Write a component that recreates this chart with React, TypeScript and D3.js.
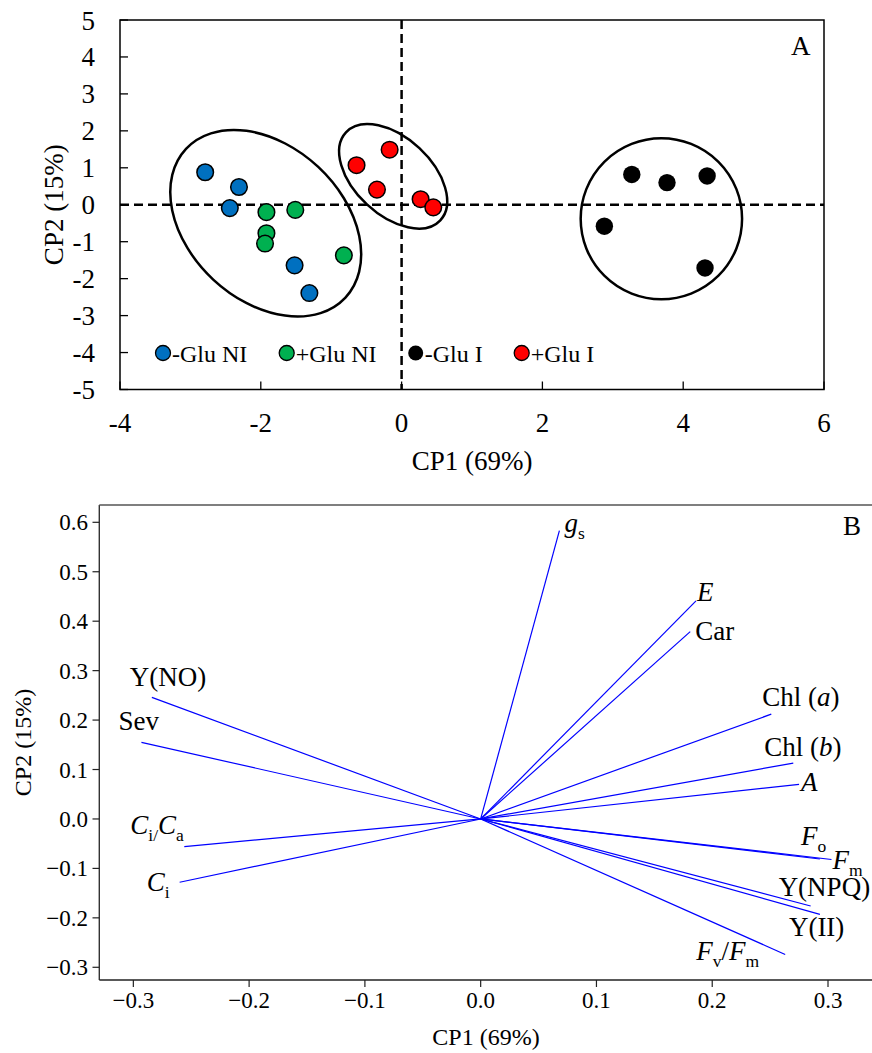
import React from 'react';
import * as d3 from 'd3';

// ---------- Panel A data (PCA scores) ----------
const groupNames = ['-Glu NI', '+Glu NI', '-Glu I', '+Glu I'];
const groupColors = ['#0070C0', '#00B050', '#000000', '#FF0000'];

const negGluNI_x = [-2.79, -2.31, -2.44, -1.52, -1.31];
const negGluNI_y = [0.88, 0.48, -0.09, -1.64, -2.39];
const posGluNI_x = [-1.92, -1.51, -1.92, -1.94, -0.82];
const posGluNI_y = [-0.2, -0.14, -0.77, -1.05, -1.37];
const negGluI_x = [3.27, 3.77, 4.34, 2.88, 4.31];
const negGluI_y = [0.82, 0.6, 0.78, -0.58, -1.71];
const posGluI_x = [-0.64, -0.17, -0.35, 0.27, 0.45];
const posGluI_y = [1.07, 1.49, 0.41, 0.15, -0.07];

const groupXs = [negGluNI_x, posGluNI_x, negGluI_x, posGluI_x];
const groupYs = [negGluNI_y, posGluNI_y, negGluI_y, posGluI_y];

// cluster ellipses: centres in data units
const ellipseCx = [-1.93, -0.12, 3.69];
const ellipseCy = [-0.5, 0.77, -0.38];

const xTicksA = [-4, -2, 0, 2, 4, 6];
const yTicksA = [-5, -4, -3, -2, -1, 0, 1, 2, 3, 4, 5];

// ---------- Panel B data (loadings) ----------
const loadVars = ['gs', 'E', 'Car', 'Chl a', 'Chl b', 'A', 'Fo', 'Fm', 'Y(NPQ)', 'Y(II)', 'Fv/Fm', 'Y(NO)', 'Sev', 'Ci/Ca', 'Ci'];
const loadPC1 = [0.068, 0.186, 0.181, 0.251, 0.27, 0.275, 0.293, 0.303, 0.285, 0.293, 0.263, -0.284, -0.293, -0.256, -0.26];
const loadPC2 = [0.583, 0.441, 0.379, 0.212, 0.113, 0.07, -0.081, -0.082, -0.176, -0.193, -0.274, 0.246, 0.155, -0.056, -0.128];

const xTicksB = [-0.3, -0.2, -0.1, 0.0, 0.1, 0.2, 0.3];
const yTicksB = [-0.3, -0.2, -0.1, 0.0, 0.1, 0.2, 0.3, 0.4, 0.5, 0.6];

type Seg = { t: string; i?: boolean; sub?: boolean };
const labelSegs: Record<string, Seg[]> = {
  gs: [{ t: 'g', i: true }, { t: 's', sub: true }],
  E: [{ t: 'E', i: true }],
  Car: [{ t: 'Car' }],
  'Chl a': [{ t: 'Chl (' }, { t: 'a', i: true }, { t: ')' }],
  'Chl b': [{ t: 'Chl (' }, { t: 'b', i: true }, { t: ')' }],
  A: [{ t: 'A', i: true }],
  Fo: [{ t: 'F', i: true }, { t: 'o', sub: true }],
  Fm: [{ t: 'F', i: true }, { t: 'm', sub: true }],
  'Y(NPQ)': [{ t: 'Y(NPQ)' }],
  'Y(II)': [{ t: 'Y(II)' }],
  'Fv/Fm': [{ t: 'F', i: true }, { t: 'v', sub: true }, { t: '/' }, { t: 'F', i: true }, { t: 'm', sub: true }],
  'Y(NO)': [{ t: 'Y(NO)' }],
  Sev: [{ t: 'Sev' }],
  'Ci/Ca': [{ t: 'C', i: true }, { t: 'i/', sub: true }, { t: 'C', i: true }, { t: 'a', sub: true }],
  Ci: [{ t: 'C', i: true }, { t: 'i', sub: true }],
};

// label placement offsets (px) from the arrow tip
const labelOffset: Record<string, [number, number]> = {
  gs: [5, 1], E: [1, 0], Car: [5, 8], 'Chl a': [-9, -8], 'Chl b': [-29, -7], A: [2, 7],
  Fo: [-19, -14], Fm: [1, 9], 'Y(NPQ)': [-32, -10], 'Y(II)': [-31, 22], 'Fv/Fm': [-89, 6],
  'Y(NO)': [-22, -11], Sev: [-23, -12], 'Ci/Ca': [-54, -13], Ci: [-33, 9],
};

const FONT = 'Liberation Serif, Tinos, DejaVu Serif, serif';

function RichLabel({ x, y, segs, size }: { x: number; y: number; segs: Seg[]; size: number }) {
  let cur = 0;
  const subDy = 7;
  return (
    <text x={x} y={y} fill="#000" style={{ fontFamily: FONT, fontSize: size }}>
      {segs.map((s, k) => {
        const target = s.sub ? subDy : 0;
        const dy = target - cur;
        cur = target;
        return (
          <tspan key={k} dy={dy} style={{ fontStyle: s.i ? 'italic' : 'normal', fontSize: s.sub ? size * 0.65 : size }}>
            {s.t}
          </tspan>
        );
      })}
    </text>
  );
}

export default function App() {
  // ---- Panel A scales ----
  const xA = d3.scaleLinear().domain([-4, 6]).range([120, 824]);
  const yA = d3.scaleLinear().domain([-5, 5]).range([389.5, 20]);
  const ellipseRx = [109, 64.5, 80.7];
  const ellipseRy = [77, 38.5, 80.5];
  const ellipseRot = [43, 43, 0];

  // ---- Panel B scales ----
  const xB = d3.scaleLinear().domain([-0.3294, 0.338]).range([99.3, 872]);
  const yB = d3.scaleLinear().domain([-0.3257, 0.635]).range([980, 505]);
  const fmtB = d3.format('.1f');

  const legendX = [163, 286.7, 415.7, 521.7];
  const T = (size: number) => ({ fontFamily: FONT, fontSize: size });

  return (
    <svg width={872} height={1053} style={{ position: 'absolute', left: 0, top: 0, fontFamily: FONT }}>
      <rect width={872} height={1053} fill="#fff" />
      {/* ================= Panel A ================= */}
      <g>
        <line x1={xA(-4)} x2={xA(6)} y1={yA(0)} y2={yA(0)} stroke="#000" strokeWidth={2.5} strokeDasharray="9,5" />
        <line x1={xA(0)} x2={xA(0)} y1={yA(5)} y2={yA(-5)} stroke="#000" strokeWidth={2.5} strokeDasharray="9,5" />
        {ellipseCx.map((cx, k) => (
          <ellipse
            key={k}
            cx={0}
            cy={0}
            rx={ellipseRx[k]}
            ry={ellipseRy[k]}
            transform={`translate(${xA(cx)},${yA(ellipseCy[k])}) rotate(${ellipseRot[k]})`}
            fill="none"
            stroke="#000"
            strokeWidth={2.5}
          />
        ))}
        {groupXs.map((xs, g) =>
          xs.map((v, k) => (
            <circle
              key={`${g}-${k}`}
              cx={xA(v)}
              cy={yA(groupYs[g][k])}
              r={g === 2 ? 8.7 : 8.3}
              fill={groupColors[g]}
              stroke="#000"
              strokeWidth={g === 2 ? 0 : 1.5}
            />
          ))
        )}
        <rect x={xA(-4)} y={yA(5)} width={xA(6) - xA(-4)} height={yA(-5) - yA(5)} fill="none" stroke="#000" strokeWidth={1.5} />
        {xTicksA.map((t) => (
          <g key={t}>
            <line x1={xA(t)} x2={xA(t)} y1={yA(-5)} y2={yA(-5) - 8} stroke="#000" strokeWidth={1.3} />
            <text x={xA(t)} y={432} style={T(27)} textAnchor="middle">
              {t}
            </text>
          </g>
        ))}
        {yTicksA.map((t) => (
          <g key={t}>
            <line x1={xA(-4)} x2={xA(-4) + 8} y1={yA(t)} y2={yA(t)} stroke="#000" strokeWidth={1.3} />
            <text x={95} y={yA(t) + 9.5} style={T(27)} textAnchor="end">
              {t}
            </text>
          </g>
        ))}
        <text x={472} y={470} style={T(27)} textAnchor="middle">CP1 (69%)</text>
        <text transform={`translate(63,${(yA(5) + yA(-5)) / 2}) rotate(-90)`} style={T(27)} textAnchor="middle">
          CP2 (15%)
        </text>
        <text x={791} y={55} style={T(27)}>A</text>
        {groupNames.map((n, g) => (
          <g key={n}>
            <circle cx={legendX[g]} cy={353} r={7.5} fill={groupColors[g]} stroke="#000" strokeWidth={g === 2 ? 0 : 1.3} />
            <text x={legendX[g] + 9} y={361.5} style={T(24)}>
              {n}
            </text>
          </g>
        ))}
      </g>

      {/* ================= Panel B ================= */}
      <g>
        {loadVars.map((v, k) => (
          <line key={v} x1={xB(0)} y1={yB(0)} x2={xB(loadPC1[k])} y2={yB(loadPC2[k])} stroke="#0000FF" strokeWidth={1.2} />
        ))}
        {loadVars.map((v, k) => (
          <RichLabel
            key={v}
            x={xB(loadPC1[k]) + labelOffset[v][0]}
            y={yB(loadPC2[k]) + labelOffset[v][1]}
            segs={labelSegs[v]}
            size={27}
          />
        ))}
        <line x1={99.3} x2={99.3} y1={505} y2={980} stroke="#333" strokeWidth={1.4} />
        <line x1={99.3} x2={872} y1={505} y2={505} stroke="#555" strokeWidth={1.4} />
        <line x1={99.3} x2={872} y1={980} y2={980} stroke="#222" strokeWidth={1.4} />
        {xTicksB.map((t) => (
          <g key={t}>
            <line x1={xB(t)} x2={xB(t)} y1={980} y2={987} stroke="#222" strokeWidth={1.2} />
            <text x={xB(t)} y={1008} style={T(23)} textAnchor="middle">
              {fmtB(t)}
            </text>
          </g>
        ))}
        {yTicksB.map((t) => (
          <g key={t}>
            <line x1={92.5} x2={99.3} y1={yB(t)} y2={yB(t)} stroke="#222" strokeWidth={1.2} />
            <text x={88} y={yB(t) + 8} style={T(23)} textAnchor="end">
              {fmtB(t)}
            </text>
          </g>
        ))}
        <text x={486} y={1045} style={T(24)} textAnchor="middle">CP1 (69%)</text>
        <text transform={`translate(31,742.5) rotate(-90)`} style={T(24)} textAnchor="middle">
          CP2 (15%)
        </text>
        <text x={843} y={535} style={T(27)}>B</text>
      </g>
    </svg>
  );
}
